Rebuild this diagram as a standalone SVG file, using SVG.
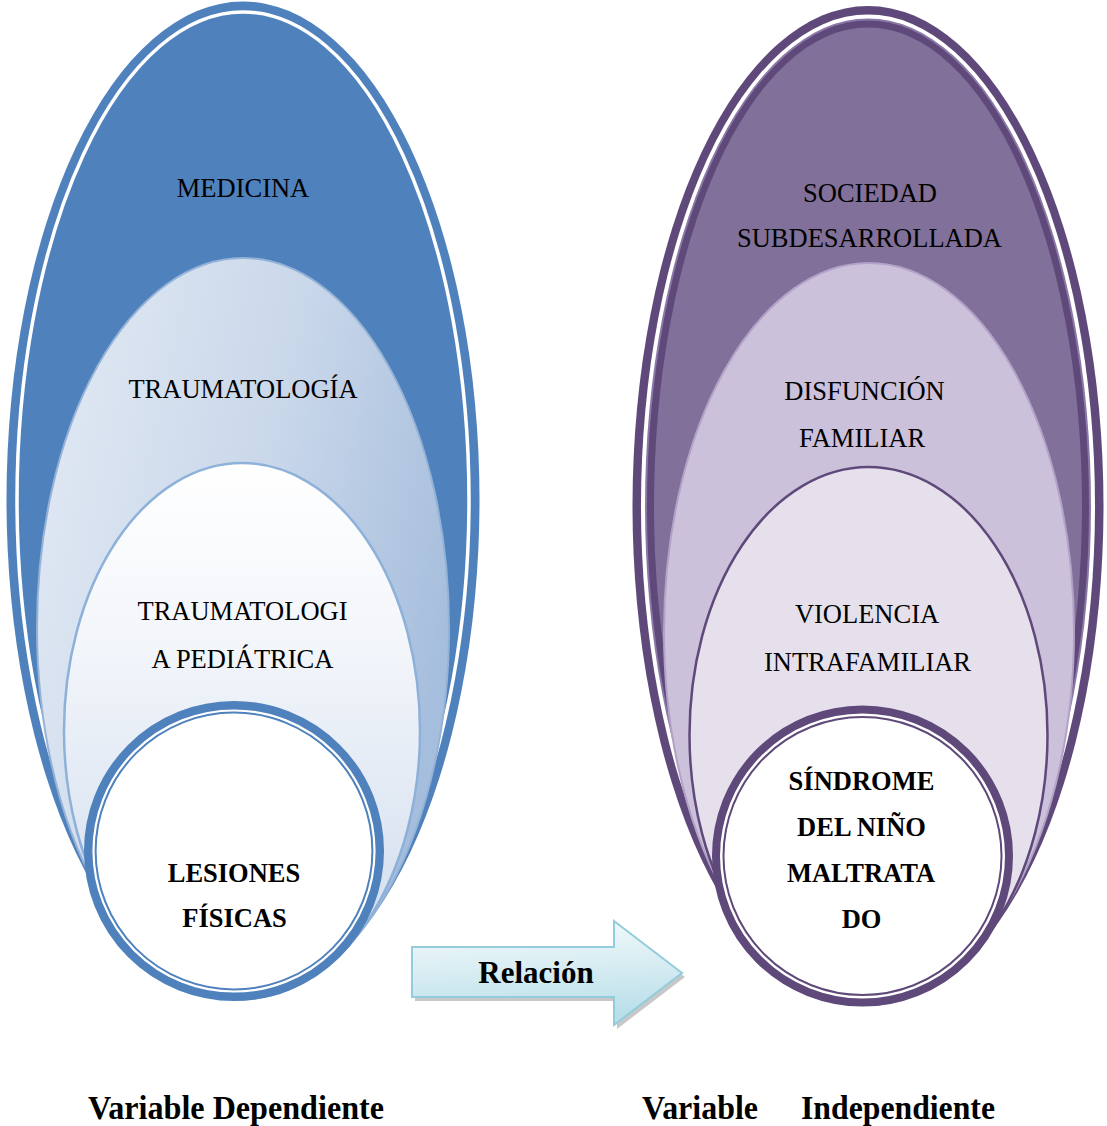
<svg xmlns="http://www.w3.org/2000/svg" width="1107" height="1126" viewBox="0 0 1107 1126">
  <defs>
    <linearGradient id="gMidBlue" x1="0" y1="0.1" x2="1" y2="0.5">
      <stop offset="0" stop-color="#E2EAF4"/>
      <stop offset="0.55" stop-color="#C9D7EA"/>
      <stop offset="1" stop-color="#A6BEDD"/>
    </linearGradient>
    <linearGradient id="gInnerBlue" x1="0" y1="0" x2="0" y2="1">
      <stop offset="0" stop-color="#FFFFFF"/>
      <stop offset="0.35" stop-color="#F2F5FA"/>
      <stop offset="1" stop-color="#CCDAEC"/>
    </linearGradient>
    <linearGradient id="gArrow" x1="0" y1="0" x2="0.15" y2="1">
      <stop offset="0" stop-color="#F7FBFC"/>
      <stop offset="1" stop-color="#B9DFE9"/>
    </linearGradient>
    <style>
      .t { font-family: "Liberation Serif", "Times New Roman", serif; font-size: 26.5px; fill: #000; text-anchor: middle; }
      .b { font-weight: bold; }
      .lbl { font-family: "Liberation Serif", "Times New Roman", serif; font-size: 34px; font-weight: bold; fill: #000; }
    </style>
  </defs>
  <rect width="1107" height="1126" fill="#FFFFFF"/>

  <!-- LEFT: Variable Dependiente -->
  <g id="medicina">
    <ellipse cx="243" cy="500" rx="236.5" ry="498.5" fill="#4F81BD"/>
    <ellipse cx="243" cy="500" rx="226" ry="488" fill="none" stroke="#FFFFFF" stroke-width="3.5"/>
    <text class="t" x="243" y="197">MEDICINA</text>
  </g>
  <g id="traumatologia">
    <ellipse cx="243" cy="628" rx="206" ry="370" fill="url(#gMidBlue)" stroke="#95B3D7" stroke-width="2"/>
    <text class="t" x="243" y="398">TRAUMATOLOGÍA</text>
  </g>
  <g id="traumatologia-pediatrica">
    <ellipse cx="242" cy="731" rx="178" ry="268" fill="url(#gInnerBlue)" stroke="#8EB1DA" stroke-width="2.5"/>
    <text class="t" x="242.5" y="620">TRAUMATOLOGI</text>
    <text class="t" x="242.5" y="668">A PEDIÁTRICA</text>
  </g>
  <g id="lesiones-fisicas">
    <circle cx="234" cy="851" r="145.8" fill="#FFFFFF" stroke="#4F81BD" stroke-width="8.4"/>
    <circle cx="234" cy="851" r="138.4" fill="none" stroke="#4F81BD" stroke-width="2"/>
    <text class="t b" x="234" y="882">LESIONES</text>
    <text class="t b" x="234.5" y="927">FÍSICAS</text>
  </g>

  <!-- RIGHT: Variable Independiente -->
  <g id="sociedad-subdesarrollada">
    <ellipse cx="868" cy="506" rx="235.5" ry="500" fill="#5F497A"/>
    <ellipse cx="868" cy="506" rx="227" ry="491.5" fill="#FFFFFF"/>
    <ellipse cx="868" cy="506" rx="223" ry="487.5" fill="#8A78A6"/>
    <ellipse cx="868" cy="506" rx="221" ry="485.5" fill="#5F497A"/>
    <ellipse cx="868" cy="506" rx="214" ry="478.5" fill="#80709A"/>
    <text class="t" x="870" y="202">SOCIEDAD</text>
    <text class="t" x="869.5" y="247">SUBDESARROLLADA</text>
  </g>
  <g id="disfuncion-familiar">
    <ellipse cx="869" cy="632" rx="205" ry="369" fill="#CCC1DA" stroke="#B3A2C7" stroke-width="2"/>
    <text class="t" x="864.5" y="400">DISFUNCIÓN</text>
    <text class="t" x="862" y="447">FAMILIAR</text>
  </g>
  <g id="violencia-intrafamiliar">
    <ellipse cx="868.5" cy="735" rx="179" ry="268" fill="#E5E0EC" stroke="#5F497A" stroke-width="2.5"/>
    <text class="t" x="867" y="623">VIOLENCIA</text>
    <text class="t" x="867.5" y="671">INTRAFAMILIAR</text>
  </g>
  <g id="sindrome-nino-maltratado">
    <circle cx="862.5" cy="856" r="146.5" fill="#FFFFFF" stroke="#5F497A" stroke-width="8"/>
    <circle cx="862.5" cy="856" r="139" fill="none" stroke="#5F497A" stroke-width="2"/>
    <text class="t b" x="861.5" y="790">SÍNDROME</text>
    <text class="t b" x="861.5" y="836">DEL NIÑO</text>
    <text class="t b" x="861" y="882">MALTRATA</text>
    <text class="t b" x="861.5" y="928">DO</text>
  </g>

  <!-- Relation arrow -->
  <g id="connectors">
    <polygon points="415,951 617,951 617,925 685,977 617,1029 617,1001 415,1001" fill="#9A9A9A" fill-opacity="0.55"/>
    <polygon points="412,947 614,947 614,921 682,973 614,1025 614,997 412,997" fill="url(#gArrow)" stroke="#93CDDD" stroke-width="2"/>
    <text class="t b" x="536" y="983" style="font-size:31px">Relación</text>
  </g>

  <!-- Bottom labels -->
  <g id="labels">
    <text class="lbl" x="88" y="1119" textLength="296" lengthAdjust="spacingAndGlyphs">Variable Dependiente</text>
    <text class="lbl" x="642" y="1119" textLength="116" lengthAdjust="spacingAndGlyphs">Variable</text>
    <text class="lbl" x="801" y="1119" textLength="194" lengthAdjust="spacingAndGlyphs">Independiente</text>
  </g>
</svg>
